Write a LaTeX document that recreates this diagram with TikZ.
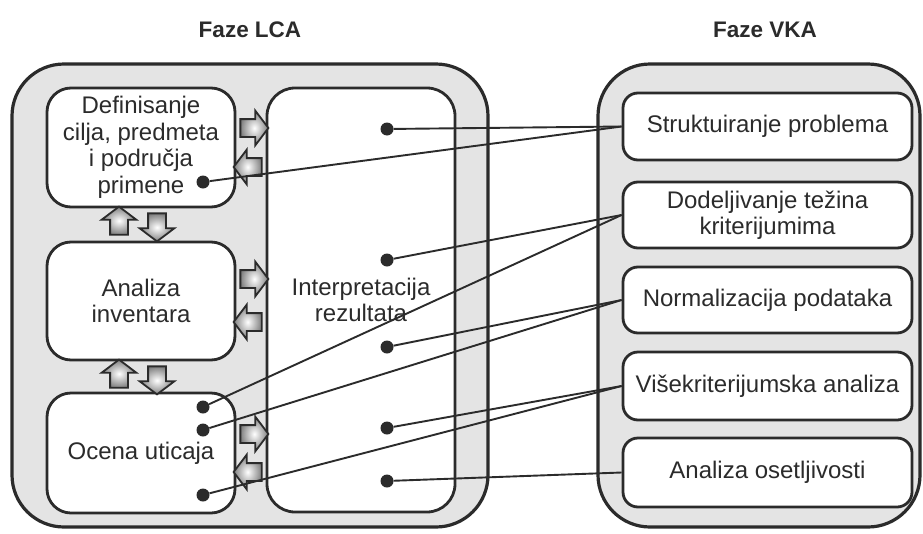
\documentclass[tikz,border=0pt]{standalone}
\usepackage{fontspec}
\setmainfont{Liberation Sans}
\usetikzlibrary{shapes.arrows}
\definecolor{ink}{HTML}{2B2B2B}
\definecolor{panelgray}{HTML}{E4E4E4}

\begin{document}
\begin{tikzpicture}[x=1pt,y=-1pt,
    panel/.style={draw=ink, line width=3.2pt, fill=panelgray, rounded corners=52pt},
    phase/.style={draw=ink, line width=2.8pt, fill=white, rounded corners=24pt, minimum width=188pt, align=center, text=ink, font=\fontsize{24}{26.5}\selectfont},
    method/.style={draw=ink, line width=2.8pt, fill=white, rounded corners=15pt, minimum width=289pt, align=center, text=ink, font=\fontsize{24}{26.5}\selectfont},
    flow/.style={single arrow, draw=ink, line width=1.8pt, inner color=white, outer color=black!50, minimum height=28pt, single arrow head extend=8.5pt, inner xsep=0pt, inner ysep=8pt, single arrow tip angle=106, single arrow head indent=0pt},
    dot/.style={circle, fill=ink, inner sep=0pt, minimum size=13pt},
    link/.style={draw=ink, line width=1.9pt}]
    \useasboundingbox (0,0) rectangle (923,533);

    % titles
    \node[text=ink, font=\bfseries\fontsize{22.5}{27}\selectfont] (lcatitle) at (250,30) {Faze LCA};
    \node[text=ink, font=\bfseries\fontsize{22.5}{27}\selectfont] (vkatitle) at (765,30) {Faze VKA};

    % grey panels
    \node[panel, minimum width=476pt, minimum height=463pt] (lca) at (250,295.5) {};
    \node[panel, minimum width=322pt, minimum height=463pt] (vka) at (759,295.5) {};

    % LCA phases
    \node[phase, minimum height=119pt] (goal) at (141,147.5) {Definisanje\\cilja, predmeta\\i područja\\primene};
    \node[phase, minimum height=118pt] (inv) at (141,301) {Analiza\\inventara};
    \node[phase, minimum height=120pt] (impact) at (141,453) {Ocena uticaja};
    \node[phase, minimum height=424pt, rounded corners=28pt] (interp) at (361,300) {Interpretacija\\rezultata};

    % VKA steps
    \node[method, minimum height=67pt] (struct) at (767.5,126.5) {Struktuiranje problema};
    \node[method, minimum height=66pt] (weight) at (767.5,215) {Dodeljivanje težina\\kriterijumima};
    \node[method, minimum height=66pt] (norm) at (767.5,300) {Normalizacija podataka};
    \node[method, minimum height=68pt] (multi) at (767.5,386) {Višekriterijumska analiza};
    \node[method, minimum height=69pt] (sens) at (767.5,472.5) {Analiza osetljivosti};

    % block arrows
    \node[flow] (g2i) at (251,128) {};
    \node[flow, rotate=180] (i2g) at (251,167) {};
    \node[flow] (v2i) at (251,279) {};
    \node[flow, rotate=180] (i2v) at (251,322) {};
    \node[flow] (o2i) at (251,434) {};
    \node[flow, rotate=180] (i2o) at (251,472) {};
    \node[flow, rotate=90] (v2g) at (119,224) {};
    \node[flow, rotate=-90] (g2v) at (157,224) {};
    \node[flow, rotate=90] (o2v) at (119,377) {};
    \node[flow, rotate=-90] (v2o) at (157,377) {};

    % dots
    \node[dot] (i1) at (387,129) {};
    \node[dot] (i2) at (387,260) {};
    \node[dot] (i3) at (387,347) {};
    \node[dot] (i4) at (387,428) {};
    \node[dot] (i5) at (387,481) {};
    \node[dot] (g1) at (203,182) {};
    \node[dot] (o1) at (203,407) {};
    \node[dot] (o2) at (203,430) {};
    \node[dot] (o3) at (203,495) {};

    % links
    \draw[link] (i1) -- (struct.west);
    \draw[link] (g1) -- (struct.west);
    \draw[link] (i2) -- (weight.west);
    \draw[link] (o1) -- (weight.west);
    \draw[link] (i3) -- (norm.west);
    \draw[link] (o2) -- (norm.west);
    \draw[link] (i4) -- (multi.west);
    \draw[link] (o3) -- (multi.west);
    \draw[link] (i5) -- (sens.west);
\end{tikzpicture}
\end{document}
